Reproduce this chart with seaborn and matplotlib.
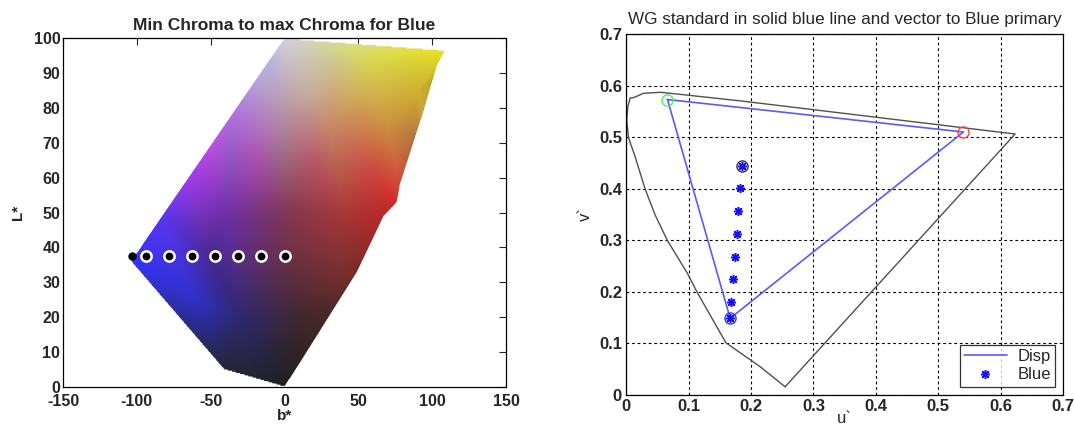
import numpy as np
import pandas as pd
import matplotlib
matplotlib.use('Agg')
import matplotlib.pyplot as plt
import matplotlib.tri as mtri
from matplotlib.colors import to_rgb
from matplotlib.patches import Polygon
import seaborn as sns

# ---- left panel: gamut surface seen in the b*-L* plane ----
outline_b = [0, 108.5, 103, 94, 78, 76, 67, 49, 0, -41, -104]
outline_L = [100, 96.5, 92, 79, 58, 53, 49, 33, 0, 5, 36]

# colour samples (outline first, then inside)
col_b = [0, 108.5, 103, 94, 78, 76, 67, 49, 0, -41, -104,
         -82, -66, -50, -35, -19,
         -10, 30, 60, 20, 50, 90, 0, 30, 70, -20, 20, 60,
         -40, 0, 40, -50, 0, 40, -60, -30, 10, 35, -30, 100, 88]
col_L = [100, 96.5, 92, 79, 58, 53, 49, 33, 0, 5, 36,
         50, 60, 70, 80, 90,
         92, 95, 95, 85, 85, 85, 80, 75, 75, 65, 65, 62,
         50, 50, 50, 38, 37, 35, 25, 20, 20, 22, 8, 88, 70]
col_hex = ['#d0d0dc', '#e8e020', '#d8cc28', '#c8a838', '#d04838', '#d82828', '#b82828',
           '#7a2c28', '#202020', '#262636', '#3434f4',
           '#6036f0', '#a03cec', '#c050e4', '#b078e0', '#b8acde',
           '#b8b0d8', '#d0cc98', '#dcdc50', '#c8b098', '#d0b458', '#d0b030',
           '#b898a8', '#c88868', '#cc9040', '#a850b0', '#b85868', '#cc4840',
           '#7030a8', '#803858', '#a83838', '#4a2890', '#6a3048', '#803030',
           '#3030c8', '#302870', '#402830', '#502828', '#282848', '#b8a830', '#b07040']

chroma_b = [-94, -78.5, -63, -47, -31.5, -16, 0]
chroma_L = [37.5] * len(chroma_b)
start_b, start_L = -103.5, 37.5

# ---- right panel: u'v' diagram ----
locus_u = [0.2547, 0.2146, 0.1597, 0.1132, 0.0988, 0.0662, 0.0465, 0.0304, 0.0144,
           0.0037, 0.0010, 0.0027, 0.0064, 0.0117, 0.0277, 0.0545, 0.0812, 0.1853,
           0.6231, 0.2547]
locus_v = [0.016, 0.0549, 0.1014, 0.2003, 0.2346, 0.2992, 0.349, 0.3994, 0.462,
           0.499, 0.533, 0.559, 0.576, 0.5765, 0.585, 0.587, 0.5837, 0.570,
           0.5061, 0.016]

disp_u = [0.0662, 0.5403, 0.1666, 0.0662]   # green, red, blue, green
disp_v = [0.573, 0.510, 0.1487, 0.573]

blue_u = [0.1666, 0.1682, 0.1709, 0.1746, 0.1783, 0.1799, 0.1826, 0.1853]
blue_v = [0.150, 0.181, 0.2243, 0.268, 0.3116, 0.3568, 0.4008, 0.4447]

sns.set_style('white')
plt.rcParams['font.family'] = ['Liberation Sans', 'DejaVu Sans']
plt.rcParams['axes.unicode_minus'] = False

fig = plt.figure(figsize=(10.74, 4.30), dpi=100)
ax1 = fig.add_axes([0.0587, 0.1, 0.4125, 0.8116])
ax2 = fig.add_axes([0.583, 0.0814, 0.4069, 0.8395])

# surface image: interpolate the sampled colours and clip to the outline
tri = mtri.Triangulation(col_b, col_L)
rgb = np.array([to_rgb(c) for c in col_hex])
gb, gL = np.meshgrid(np.linspace(-110, 112, 450), np.linspace(0, 100, 300))
img = np.zeros(gb.shape + (3,))
for k in range(3):
    interp = mtri.LinearTriInterpolator(tri, rgb[:, k])
    img[..., k] = np.ma.filled(interp(gb, gL), 1.0)
img = np.clip(img, 0, 1)
im = ax1.imshow(img, extent=(-110, 112, 0, 100), origin='lower', aspect='auto',
                interpolation='bilinear', zorder=1)
poly = Polygon(np.column_stack([outline_b, outline_L]), closed=True,
               facecolor='none', edgecolor='none', transform=ax1.transData)
ax1.add_patch(poly)
im.set_clip_path(poly)

ax1.plot([start_b], [start_L], 'o', color='black', markersize=5, zorder=3)
sns.scatterplot(x=chroma_b, y=chroma_L, ax=ax1, marker='o', s=55,
                color='black', edgecolor='white', linewidth=1.8, zorder=3, legend=False)

ax1.set_xlim(-150, 150)
ax1.set_ylim(0, 100)
ax1.set_xticks(np.arange(-150, 151, 50))
ax1.set_yticks(np.arange(0, 101, 10))
ax1.tick_params(direction='in', length=5, top=True, right=True, labelsize=11.5,
                width=0.8)
ax1.tick_params(axis='x', pad=5)
ax1.tick_params(axis='y', pad=2)
for lab in ax1.get_xticklabels() + ax1.get_yticklabels():
    lab.set_fontweight('bold')
ax1.set_title('Min Chroma to max Chroma for Blue', fontsize=12.5, fontweight='bold', pad=6)
ax1.set_xlabel('b*', fontsize=11, fontweight='bold', labelpad=0)
ax1.set_ylabel('L*', fontsize=11, fontweight='bold', labelpad=6)
for s in ax1.spines.values():
    s.set_color('black')
    s.set_linewidth(0.9)

# right panel
ax2.set_axisbelow(True)
ax2.grid(True, color='black', linestyle=(0, (2.5, 2.5)), linewidth=0.8)
locus_df = pd.DataFrame({'u': locus_u, 'v': locus_v})
sns.lineplot(data=locus_df, x='u', y='v', ax=ax2, sort=False, estimator=None,
             color='#505050', linewidth=1.0, zorder=2)
disp_df = pd.DataFrame({'u': disp_u, 'v': disp_v})
sns.lineplot(data=disp_df, x='u', y='v', ax=ax2, sort=False, estimator=None,
             color='#5a5aff', linewidth=1.2, zorder=3, label='Disp')
ax2.plot(blue_u, blue_v, linestyle='none', marker=(8, 2, 0), markersize=6.5,
         color='#1010ff', markeredgewidth=1.1, zorder=4, label='Blue')
ax2.plot(disp_u[0], disp_v[0], 'o', mfc='none', mec='#50f050', ms=8, mew=1.0, zorder=4)
ax2.plot(disp_u[1], disp_v[1], 'o', mfc='none', mec='#ff4040', ms=8, mew=1.0, zorder=4)
ax2.plot(disp_u[2], disp_v[2], 'o', mfc='none', mec='#3030ff', ms=8, mew=1.0, zorder=4)
ax2.plot(blue_u[-1], blue_v[-1], 'o', mfc='none', mec='#303040', ms=8, mew=1.0, zorder=4)

ax2.set_xlim(0, 0.7)
ax2.set_ylim(0, 0.7)
ax2.set_xticks(np.arange(0, 0.71, 0.1))
ax2.set_yticks(np.arange(0, 0.71, 0.1))
ax2.set_xticklabels(['0', '0.1', '0.2', '0.3', '0.4', '0.5', '0.6', '0.7'])
ax2.set_yticklabels(['0', '0.1', '0.2', '0.3', '0.4', '0.5', '0.6', '0.7'])
ax2.tick_params(length=0, labelsize=12, pad=3)
for lab in ax2.get_xticklabels() + ax2.get_yticklabels():
    lab.set_fontweight('bold')
ax2.set_title('WG standard in solid blue line and vector to Blue primary', fontsize=12.3, pad=7)
ax2.set_xlabel('u`', fontsize=12, labelpad=-2)
ax2.set_ylabel('v`', fontsize=12, labelpad=4)
for s in ax2.spines.values():
    s.set_color('black')
    s.set_linewidth(0.9)
leg = ax2.legend(loc='lower right', fontsize=12, frameon=True, fancybox=False,
                 edgecolor='black', borderaxespad=0.5, handlelength=2.6,
                 borderpad=0.25, labelspacing=0.2, handletextpad=0.6)
leg.get_frame().set_linewidth(0.9)

fig.savefig('out.png', dpi=100)
